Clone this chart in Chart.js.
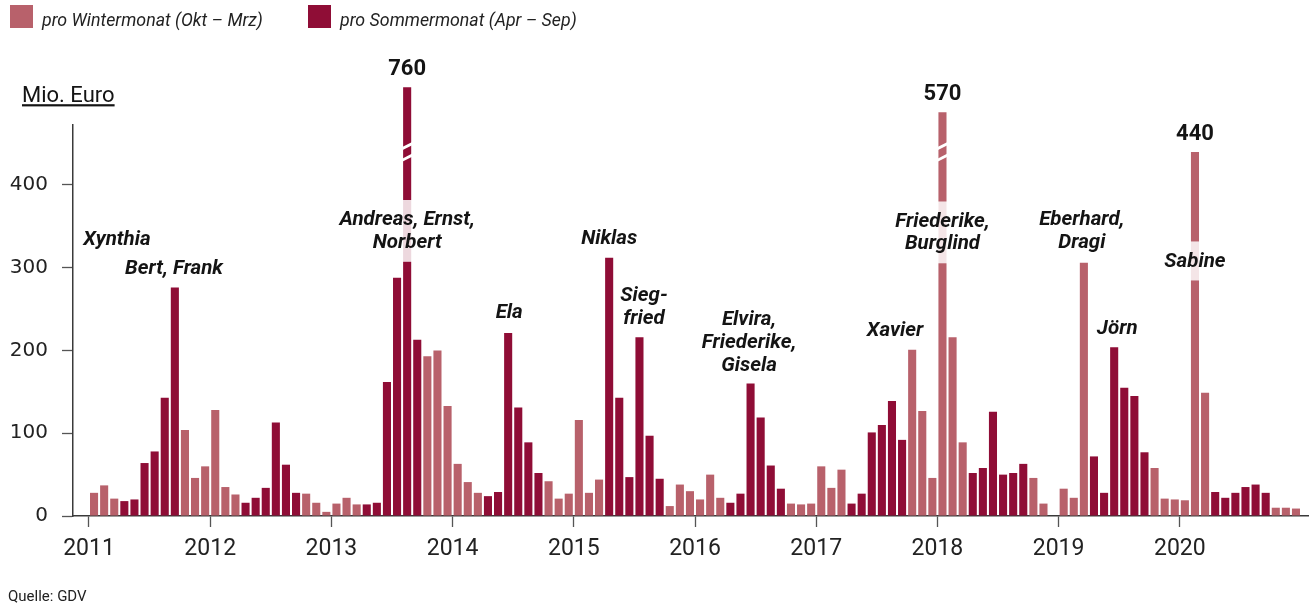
<!DOCTYPE html>
<html lang="de">
<head>
<meta charset="utf-8">
<title>Sturmschäden pro Monat</title>
<script src="https://cdn.jsdelivr.net/npm/chart.js@4/dist/chart.umd.min.js"></script>
<style>
  html, body { margin: 0; padding: 0; background: #ffffff; }
  #wrap { position: relative; width: 1314px; height: 608px; }
  canvas { display: block; }
</style>
</head>
<body>
<div id="wrap"><canvas id="chart" width="1314" height="608"></canvas></div>
<script>
// ---------------- data (Mio. Euro per month, Jan..Dec) ----------------
const years = [2011, 2012, 2013, 2014, 2015, 2016, 2017, 2018, 2019, 2020];
const losses2011 = [28, 37, 21, 18, 20, 64, 78, 143, 276, 104, 46, 60];
const losses2012 = [128, 35, 26, 16, 22, 34, 113, 62, 28, 27, 16, 5];
const losses2013 = [15, 22, 14, 14, 16, 162, 288, 760, 213, 193, 200, 133];
const losses2014 = [63, 41, 28, 24, 29, 221, 131, 89, 52, 42, 21, 27];
const losses2015 = [116, 28, 44, 312, 143, 47, 216, 97, 45, 12, 38, 30];
const losses2016 = [20, 50, 22, 16, 27, 160, 119, 61, 33, 15, 14, 15];
const losses2017 = [60, 34, 56, 15, 27, 101, 110, 139, 92, 201, 127, 46];
const losses2018 = [570, 216, 89, 52, 58, 126, 50, 52, 63, 46, 15, 0];
const losses2019 = [33, 22, 306, 72, 28, 204, 155, 145, 77, 58, 21, 20];
const losses2020 = [19, 440, 149, 29, 22, 28, 35, 38, 28, 10, 10, 9];

const yTickValues = [0, 100, 200, 300, 400];
const winterMonths = [10, 11, 12, 1, 2, 3];   // Okt – Mrz
const legendLabels = ['pro Wintermonat (Okt – Mrz)', 'pro Sommermonat (Apr – Sep)'];

// bars whose height is cut by an axis break (value at which the cut bar ends)
const brokenBarYears = [2013, 2018];
const brokenBarMonths = [8, 1];
const brokenBarShownAs = [518, 488];
const breakMarkValues = [447, 433];

// bars that get their value written above them
const peakYears = [2013, 2018, 2020];
const peakMonths = [8, 1, 2];

// storm names (x in months since Jan 2011, y = value of first text line)
const stormTexts = [
  ['Xynthia'], ['Bert, Frank'], ['Andreas, Ernst,', 'Norbert'], ['Ela'], ['Niklas'],
  ['Sieg-', 'fried'], ['Elvira,', 'Friederike,', 'Gisela'], ['Xavier'],
  ['Friederike,', 'Burglind'], ['Eberhard,', 'Dragi'], ['Jörn'], ['Sabine']
];
const stormX = [2.77, 8.42, 31.5, 41.6, 51.5, 54.95, 65.35, 79.8, 84.5, 98.3, 101.8, 109.5];
const stormY = [333.5, 298.5, 357.7, 245.3, 335.3, 265.9, 236.9, 223.6, 355.9, 357.7, 226.6, 307.6];
const stormOnBar = [false, false, true, false, false, false, false, false, true, false, false, true];

// ---------------- derived ----------------
const monthlyLosses = [].concat(losses2011, losses2012, losses2013, losses2014, losses2015,
  losses2016, losses2017, losses2018, losses2019, losses2020);
const idxOf = (yr, m) => (yr - years[0]) * 12 + (m - 1);
const plotted = monthlyLosses.slice();
brokenBarYears.forEach((yr, k) => { plotted[idxOf(yr, brokenBarMonths[k])] = brokenBarShownAs[k]; });

const winterData = [], summerData = [];
plotted.forEach((v, i) => {
  const m = (i % 12) + 1;
  const pt = { x: i + 0.5, y: v };
  if (winterMonths.includes(m)) winterData.push(pt); else summerData.push(pt);
});

const WINTER = '#b8616b';
const SUMMER = '#8f0d36';
const TEXT = '#141414';

const overlay = {
  id: 'overlay',
  afterDatasetsDraw(chart) {
    const { ctx, scales: { x, y } } = chart;
    ctx.save();
    // axis-break marks
    brokenBarYears.forEach((yr, k) => {
      const cx = x.getPixelForValue(idxOf(yr, brokenBarMonths[k]) + 0.5);
      breakMarkValues.forEach(v => {
        const py = y.getPixelForValue(v);
        const hw = 5.5, drop = 2.8, th = 1.6;
        ctx.fillStyle = '#ffffff';
        ctx.beginPath();
        ctx.moveTo(cx - hw, py + drop - th);
        ctx.lineTo(cx + hw, py - drop - th);
        ctx.lineTo(cx + hw, py - drop + th);
        ctx.lineTo(cx - hw, py + drop + th);
        ctx.closePath();
        ctx.fill();
      });
    });
    // peak values
    ctx.font = 'bold 22px Roboto';
    ctx.fillStyle = TEXT;
    ctx.textAlign = 'center';
    ctx.textBaseline = 'middle';
    peakYears.forEach((yr, k) => {
      const i = idxOf(yr, peakMonths[k]);
      const cx = x.getPixelForValue(i + 0.5);
      const top = y.getPixelForValue(plotted[i]);
      ctx.fillText(String(monthlyLosses[i]), cx, top - 17.5);
    });
    // storm names
    ctx.font = 'italic bold 20.5px Roboto';
    const lh = 22.8;
    stormTexts.forEach((lines, k) => {
      const cx = x.getPixelForValue(stormX[k]);
      const y0 = y.getPixelForValue(stormY[k]);
      if (stormOnBar[k]) {
        const w = Math.max(...lines.map(t => ctx.measureText(t).width));
        ctx.fillStyle = 'rgba(255,255,255,0.84)';
        ctx.fillRect(cx - w / 2 - 2, y0 - 20, w + 4, (lines.length - 1) * lh + 39);
      }
      ctx.fillStyle = TEXT;
      lines.forEach((t, j) => ctx.fillText(t, cx, y0 + j * lh));
    });
    ctx.restore();
  },
  afterDraw(chart) {
    const { ctx } = chart;
    ctx.save();
    // legend
    const colors = [WINTER, SUMMER];
    const boxX = [10, 308];
    ctx.font = 'italic 17.8px Roboto';
    ctx.textAlign = 'left';
    ctx.textBaseline = 'alphabetic';
    legendLabels.forEach((t, k) => {
      ctx.fillStyle = colors[k];
      ctx.fillRect(boxX[k], 5, 23, 23);
      ctx.fillStyle = '#222';
      ctx.fillText(t, boxX[k] + 32, 26);
    });
    // unit
    ctx.font = '22px Roboto';
    ctx.fillStyle = TEXT;
    ctx.fillText('Mio. Euro', 22, 102);
    const uw = ctx.measureText('Mio. Euro').width;
    ctx.fillRect(22, 104.2, uw, 2.2);
    // source
    ctx.font = '15px Roboto';
    ctx.fillStyle = '#222';
    ctx.fillText('Quelle: GDV', 8, 601);
    ctx.restore();
  }
};

Chart.defaults.font.family = 'Roboto';

new Chart(document.getElementById('chart'), {
  type: 'bar',
  data: {
    datasets: [
      { label: legendLabels[0], data: winterData, backgroundColor: WINTER },
      { label: legendLabels[1], data: summerData, backgroundColor: SUMMER }
    ]
  },
  options: {
    responsive: false,
    animation: false,
    devicePixelRatio: 1,
    events: [],
    layout: { padding: { top: 125, right: 6, left: 0, bottom: 0 } },
    datasets: {
      bar: { grouped: false, clip: false, categoryPercentage: 1, barPercentage: 0.8, borderWidth: 0 }
    },
    plugins: { legend: { display: false }, tooltip: { enabled: false } },
    scales: {
      x: {
        type: 'linear',
        offset: false,
        min: -1.584,
        max: 120.69,
        afterBuildTicks: s => { s.ticks = years.map((yr, i) => ({ value: i * 12 })); },
        afterFit: s => { s.height = 92; },
        ticks: {
          autoSkip: false, maxRotation: 0, padding: 8,
          callback: (v, i) => String(years[i]),
          font: { family: 'Roboto', size: 23 }, color: '#222'
        },
        grid: { offset: false, drawOnChartArea: false, drawTicks: true, tickLength: 11, tickColor: '#555', tickWidth: 1.3 },
        border: { display: true, color: '#3a3a3a', width: 1.5 }
      },
      y: {
        min: 0,
        max: 472.5,
        afterBuildTicks: s => { s.ticks = yTickValues.map(v => ({ value: v })); },
        afterFit: s => { s.width = 73; },
        ticks: {
          padding: 14,
          callback: v => String(v),
          font: { family: 'DejaVu Sans', size: 20 }, color: '#222'
        },
        grid: { drawOnChartArea: false, drawTicks: true, tickLength: 11, tickColor: '#555', tickWidth: 1.3 },
        border: { display: true, color: '#3a3a3a', width: 1.5 }
      }
    }
  },
  plugins: [overlay]
});
</script>
</body>
</html>
